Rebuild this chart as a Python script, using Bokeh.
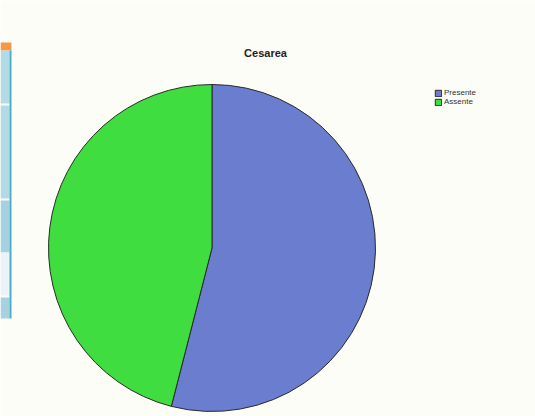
import math
from bokeh.plotting import figure
from bokeh.models import ColumnDataSource, Range1d, BoxAnnotation, Legend
from bokeh.core.properties import value
from bokeh.embed import file_html
from bokeh.resources import INLINE

# Data
categories = ["Presente", "Assente"]
values = [54, 46]
colors = ["#6b7dcf", "#3fdd3f"]
title_text = "Cesarea"

W, H = 535, 416
p = figure(width=W, height=H, output_backend="svg", toolbar_location=None,
           x_range=Range1d(0, W), y_range=Range1d(0, H), min_border=0,
           background_fill_color="#fdfdf8", border_fill_color="#fdfdf8",
           outline_line_color=None)
p.axis.visible = False
p.grid.visible = False

# left table strip (decorative fragment of slide)
strip = [
    (0, 11, 416 - 50, 416 - 42, "#f79646"),
    (0, 9, 416 - 103, 416 - 50, "#b3dbe6"),
    (0, 9, 416 - 198, 416 - 105, "#b3dbe6"),
    (0, 9, 416 - 252, 416 - 200, "#a5d2e1"),
    (0, 9, 416 - 295, 416 - 252, "#eaf4f8"),
    (0, 9, 416 - 318, 416 - 297, "#a5d2e1"),
    (9, 11, 416 - 318, 416 - 50, "#4bacc6"),
]
for l, r, b, t, c in strip:
    p.add_layout(BoxAnnotation(left=l, right=r, bottom=b, top=t,
                               fill_color=c, fill_alpha=1, line_color=None))

# pie
total = sum(values)
starts, ends = [], []
a = math.pi / 2
for v in values:
    starts.append(a)
    a = a - v / total * 2 * math.pi
    ends.append(a)
src = ColumnDataSource(dict(label=categories, value=values, color=colors,
                            start=starts, end=ends))
cx, cy, rad = 211.5, H - 247.5, 163.5
wr = p.wedge(x=cx, y=cy, radius=rad, start_angle="start", end_angle="end",
             direction="clock", fill_color="color", line_color="#2a2a2a",
             line_width=1, source=src)

# title
p.text(x=[265], y=[H - 52], text=[title_text], text_font=value("Liberation Sans"),
       text_font_style="bold", text_font_size="11px", text_color="#222222",
       text_align="center", text_baseline="middle")

legend = Legend(items=[(categories[0], [wr]), (categories[1], [wr])],
                location=(434, H - 106), orientation="vertical",
                glyph_width=8, glyph_height=8, label_height=8,
                label_text_font_size="8px", label_text_font="Liberation Sans",
                label_text_color="#333333", label_standoff=2,
                padding=0, spacing=0, margin=0,
                border_line_color=None, background_fill_alpha=0)
legend.items[0].index = 0
legend.items[1].index = 1
p.add_layout(legend, "center")

open("out.html", "w").write(file_html(p, INLINE))
